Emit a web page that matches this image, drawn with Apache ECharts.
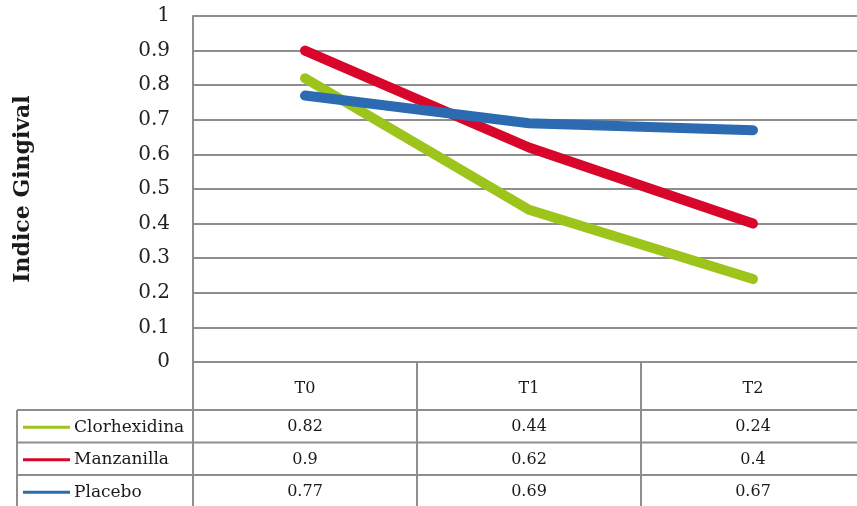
<!DOCTYPE html>
<html>
<head>
<meta charset="utf-8">
<script src="https://cdn.jsdelivr.net/npm/echarts@6/dist/echarts.min.js"></script>
<style>
html,body{margin:0;padding:0;background:#fff;}
#chart{width:857px;height:506px;}
</style>
</head>
<body>
<div id="chart"></div>
<script>
var categories = ['T0', 'T1', 'T2'];
var seriesNames = ['Clorhexidina', 'Manzanilla', 'Placebo'];
var clorhexidina = [0.82, 0.44, 0.24];
var manzanilla = [0.9, 0.62, 0.4];
var placebo = [0.77, 0.69, 0.67];
var yAxisTitle = 'Indice Gingival';

var seriesValues = [clorhexidina, manzanilla, placebo];
var colors = ['#9DC41B', '#D8062B', '#2C6BB1'];
var gridColor = '#8e8e8e';
var serif = 'DejaVu Serif';

var chart = echarts.init(document.getElementById('chart'), null, {renderer: 'canvas'});

var GRID_LEFT = 193, GRID_TOP = 16, GRID_W = 672, GRID_H = 346;

chart.setOption({
  animation: false,
  backgroundColor: '#ffffff',
  grid: {left: GRID_LEFT, top: GRID_TOP, width: GRID_W, height: GRID_H, containLabel: false, outerBoundsMode: 'none'},
  xAxis: {
    type: 'category',
    data: categories,
    boundaryGap: true,
    axisLine: {show: true, lineStyle: {color: gridColor, width: 2}},
    axisTick: {show: false},
    axisLabel: {fontFamily: serif, fontSize: 16, color: '#1a1a1a', margin: 19},
    splitLine: {show: false}
  },
  yAxis: {
    type: 'value',
    min: 0, max: 1, interval: 0.1,
    name: yAxisTitle,
    nameLocation: 'middle',
    nameRotate: 90,
    nameGap: 159,
    nameTextStyle: {fontFamily: serif, fontWeight: 'bold', fontSize: 22, color: '#1a1a1a'},
    axisLine: {show: true, lineStyle: {color: gridColor, width: 2}},
    axisTick: {show: false},
    axisLabel: {fontFamily: serif, fontSize: 20, color: '#222', margin: 23, padding: [7, 0, 0, 0]},
    splitLine: {show: true, lineStyle: {color: gridColor, width: 2}}
  },
  series: seriesNames.map(function (n, i) {
    return {
      name: n,
      type: 'line',
      data: seriesValues[i],
      symbol: 'none',
      lineStyle: {color: colors[i], width: 10, cap: 'round', join: 'round'},
      z: 3 + i
    };
  })
});

// Data table below the plot, built from the same arrays
var TABLE_LEFT = 17;
var HEADER_BOTTOM = 410;
var ROW_H = 32.5;
var bottomY = 520;
var centers = categories.map(function (c) { return chart.convertToPixel({xAxisIndex: 0}, c); });
var band = centers.length > 1 ? centers[1] - centers[0] : GRID_W;
var axisY = chart.convertToPixel({yAxisIndex: 0}, 0);
var rightX = centers[centers.length - 1] + band / 2;

var g = [];
function line(x1, y1, x2, y2) {
  g.push({type: 'line', shape: {x1: x1, y1: y1, x2: x2, y2: y2}, style: {stroke: gridColor, lineWidth: 2}, z: 10});
}
line(GRID_LEFT, axisY, GRID_LEFT, bottomY);
for (var c = 1; c < centers.length; c++) {
  var bx = centers[c] - band / 2;
  line(bx, axisY, bx, bottomY);
}
line(TABLE_LEFT, HEADER_BOTTOM, TABLE_LEFT, bottomY);
for (var r = 0; r < seriesNames.length; r++) {
  var yTop = HEADER_BOTTOM + r * ROW_H;
  line(TABLE_LEFT, yTop, rightX, yTop);
  var yc = yTop + ROW_H / 2 + 1;
  g.push({type: 'line', shape: {x1: 23, y1: yc, x2: 70, y2: yc}, style: {stroke: colors[r], lineWidth: 3}, z: 11});
  g.push({type: 'text', x: 74, y: yc, style: {text: seriesNames[r], fontFamily: serif, fontSize: 17, fill: '#1a1a1a', textVerticalAlign: 'middle', textAlign: 'left'}, z: 11});
  for (var k = 0; k < categories.length; k++) {
    g.push({type: 'text', x: centers[k], y: yc, style: {text: String(seriesValues[r][k]), fontFamily: serif, fontSize: 16, fill: '#1a1a1a', textVerticalAlign: 'middle', textAlign: 'center'}, z: 11});
  }
}
chart.setOption({graphic: g});
</script>
</body>
</html>
